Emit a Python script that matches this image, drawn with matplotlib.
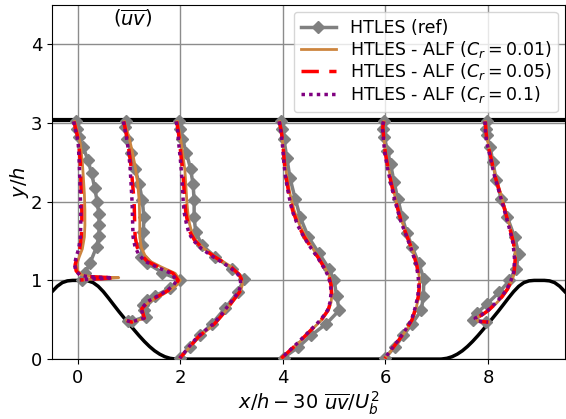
import numpy as np
import matplotlib
matplotlib.use('Agg')
import matplotlib.pyplot as plt

# ── Hill geometry (half profile, x/h and y/h) ─────────────────────────────────
hill_x = [0.0, 0.1, 0.2, 0.3, 0.4, 0.5, 0.6, 0.7, 0.8, 0.9, 1.0,
          1.1, 1.2, 1.3, 1.4, 1.5, 1.6, 1.7, 1.8, 1.9, 1.929]
hill_y = [1.0, 1.0, 0.994, 0.972, 0.925, 0.857, 0.776, 0.691, 0.607, 0.527, 0.448,
          0.371, 0.295, 0.224, 0.160, 0.105, 0.062, 0.030, 0.010, 0.001, 0.0]
top_wall = 3.036
stations = [0, 1, 2, 4, 6, 8]

# ── Reference HTLES profiles (x/h - 30 uv/Ub^2, y/h) ──────────────────────────
ref_y = {
    0: [3.02, 2.93, 2.82, 2.70, 2.53, 2.36, 2.18, 2.00, 1.85, 1.70, 1.56, 1.43, 1.22, 1.09, 1.00],
    1: [3.02, 2.95, 2.80, 2.62, 2.42, 2.22, 2.02, 1.80, 1.62, 1.45, 1.30, 1.22, 1.10, 1.00,
        0.90, 0.80, 0.75, 0.69, 0.62, 0.54, 0.48, 0.48],
    2: [3.02, 2.93, 2.80, 2.62, 2.42, 2.22, 2.02, 1.80, 1.62, 1.45, 1.30, 1.15, 1.02, 0.85,
        0.65, 0.45, 0.30, 0.15, 0.02],
    4: [3.02, 2.93, 2.80, 2.55, 2.30, 2.04, 1.80, 1.55, 1.35, 1.15, 1.00, 0.80, 0.62, 0.45,
        0.30, 0.15, 0.02],
    6: [3.02, 2.93, 2.82, 2.65, 2.48, 2.25, 2.04, 1.80, 1.60, 1.43, 1.22, 1.02, 0.80, 0.62,
        0.45, 0.30, 0.15, 0.02],
    8: [3.02, 2.93, 2.85, 2.70, 2.50, 2.27, 2.04, 1.80, 1.55, 1.34, 1.15, 1.00, 0.85, 0.70,
        0.58, 0.50, 0.47],
}
ref_x = {
    0: [-0.04, -0.02, 0.02, 0.10, 0.20, 0.27, 0.33, 0.38, 0.41, 0.42, 0.41, 0.37, 0.24, 0.14, 0.08],
    1: [0.95, 0.92, 0.97, 1.04, 1.12, 1.20, 1.26, 1.29, 1.28, 1.26, 1.24, 1.35, 1.65, 2.00,
        1.80, 1.50, 1.35, 1.27, 1.30, 1.33, 1.05, 0.98],
    2: [1.97, 1.99, 2.04, 2.12, 2.20, 2.25, 2.27, 2.27, 2.30, 2.42, 2.68, 3.00, 3.25, 3.12,
        2.88, 2.62, 2.38, 2.18, 2.00],
    4: [3.97, 3.98, 4.02, 4.08, 4.14, 4.24, 4.34, 4.50, 4.70, 4.90, 5.00, 5.05, 5.10, 4.85,
        4.55, 4.30, 4.02],
    6: [5.97, 5.96, 5.98, 6.04, 6.10, 6.17, 6.24, 6.33, 6.42, 6.52, 6.65, 6.75, 6.74, 6.70,
        6.52, 6.35, 6.18, 6.00],
    8: [7.98, 7.96, 7.98, 8.04, 8.10, 8.16, 8.26, 8.38, 8.52, 8.60, 8.55, 8.42, 8.22, 7.98,
        7.78, 7.70, 7.97],
}

# ── HTLES - ALF profiles ──────────────────────────────────────────────────────
alf_y = {
    0: [3.02, 2.95, 2.85, 2.74, 2.50, 2.31, 2.10, 1.89, 1.70, 1.55, 1.40, 1.30, 1.20, 1.12,
        1.07, 1.05, 1.04, 1.035, 1.025, 1.015, 1.005],
    1: [3.02, 2.95, 2.82, 2.65, 2.45, 2.23, 2.00, 1.75, 1.55, 1.42, 1.32, 1.24, 1.17, 1.09,
        1.00, 0.94, 0.88, 0.81, 0.73, 0.64, 0.56, 0.52, 0.47, 0.49],
    2: [3.02, 2.90, 2.74, 2.55, 2.40, 2.20, 1.98, 1.85, 1.72, 1.60, 1.51, 1.40, 1.30, 1.17,
        1.08, 1.02, 0.94, 0.855, 0.71, 0.58, 0.45, 0.28, 0.14, 0.01],
    4: [3.02, 2.90, 2.74, 2.50, 2.32, 2.10, 1.89, 1.70, 1.55, 1.40, 1.30, 1.15, 1.05, 0.94,
        0.835, 0.72, 0.62, 0.50, 0.37, 0.20, 0.01],
    6: [3.02, 2.95, 2.80, 2.61, 2.40, 2.19, 1.98, 1.77, 1.58, 1.39, 1.20, 1.05, 0.92, 0.79,
        0.65, 0.50, 0.37, 0.24, 0.12, 0.01],
    8: [3.02, 2.90, 2.78, 2.55, 2.32, 2.10, 1.89, 1.68, 1.47, 1.26, 1.10, 1.00, 0.89, 0.79,
        0.70, 0.62, 0.56, 0.52, 0.48, 0.47],
}
alf001_x = {
    0: [-0.06, -0.03, 0.01, 0.05, 0.09, 0.11, 0.13, 0.14, 0.14, 0.13, 0.09, 0.03, -0.02, 0.00,
        0.08, 0.25, 0.50, 0.80, 0.60, 0.28, 0.06],
    1: [0.91, 0.94, 1.00, 1.06, 1.12, 1.17, 1.20, 1.21, 1.21, 1.24, 1.31, 1.42, 1.63, 1.90,
        2.00, 1.93, 1.81, 1.63, 1.40, 1.26, 1.29, 1.31, 1.06, 0.96],
    2: [1.94, 1.98, 2.02, 2.06, 2.09, 2.11, 2.13, 2.15, 2.18, 2.23, 2.30, 2.47, 2.69, 3.00,
        3.15, 3.20, 3.21, 3.17, 3.00, 2.85, 2.68, 2.36, 2.17, 2.00],
    4: [3.94, 3.97, 4.00, 4.04, 4.08, 4.14, 4.22, 4.33, 4.45, 4.59, 4.69, 4.83, 4.91, 4.95,
        4.96, 4.94, 4.89, 4.76, 4.56, 4.30, 3.98],
    6: [5.97, 5.95, 5.97, 6.01, 6.07, 6.14, 6.22, 6.31, 6.42, 6.53, 6.62, 6.66, 6.67, 6.65,
        6.60, 6.53, 6.41, 6.27, 6.13, 6.00],
    8: [7.95, 7.97, 7.99, 8.07, 8.15, 8.25, 8.34, 8.43, 8.51, 8.54, 8.52, 8.47, 8.39, 8.28,
        8.15, 8.02, 7.89, 7.77, 7.81, 8.01],
}
alf005_x = {
    0: [-0.07, -0.05, -0.01, 0.02, 0.05, 0.06, 0.07, 0.08, 0.08, 0.07, 0.04, -0.01, -0.05, -0.03,
        0.05, 0.20, 0.45, 0.72, 0.55, 0.25, 0.05],
    1: [0.90, 0.92, 0.96, 1.00, 1.04, 1.07, 1.10, 1.11, 1.12, 1.16, 1.24, 1.36, 1.58, 1.86,
        1.96, 1.89, 1.78, 1.60, 1.38, 1.25, 1.28, 1.30, 1.05, 0.96],
    2: [1.93, 1.96, 1.99, 2.02, 2.05, 2.07, 2.09, 2.11, 2.15, 2.20, 2.28, 2.45, 2.67, 2.99,
        3.14, 3.19, 3.20, 3.16, 2.99, 2.84, 2.67, 2.35, 2.16, 1.99],
    4: [3.93, 3.97, 4.00, 4.03, 4.06, 4.12, 4.19, 4.30, 4.42, 4.57, 4.68, 4.82, 4.90, 4.94,
        4.95, 4.93, 4.88, 4.75, 4.55, 4.29, 3.97],
    6: [5.97, 5.95, 5.97, 6.00, 6.06, 6.13, 6.21, 6.30, 6.41, 6.52, 6.61, 6.65, 6.66, 6.64,
        6.59, 6.52, 6.40, 6.26, 6.12, 5.99],
    8: [7.95, 7.96, 7.98, 8.06, 8.14, 8.24, 8.33, 8.42, 8.50, 8.53, 8.51, 8.46, 8.38, 8.27,
        8.14, 8.01, 7.88, 7.76, 7.80, 8.01],
}
alf01_x = {
    0: [-0.08, -0.06, -0.02, 0.01, 0.03, 0.04, 0.05, 0.06, 0.06, 0.05, 0.02, -0.03, -0.06, -0.04,
        0.04, 0.18, 0.40, 0.68, 0.50, 0.22, 0.04],
    1: [0.89, 0.91, 0.95, 0.99, 1.02, 1.04, 1.06, 1.07, 1.08, 1.12, 1.20, 1.32, 1.54, 1.82,
        1.93, 1.87, 1.76, 1.58, 1.36, 1.24, 1.27, 1.29, 1.04, 0.96],
    2: [1.92, 1.95, 1.97, 2.00, 2.02, 2.04, 2.06, 2.08, 2.12, 2.17, 2.25, 2.42, 2.64, 2.96,
        3.12, 3.17, 3.18, 3.14, 2.97, 2.82, 2.65, 2.33, 2.15, 1.99],
    4: [3.93, 3.96, 3.99, 4.02, 4.05, 4.11, 4.18, 4.29, 4.41, 4.56, 4.67, 4.81, 4.89, 4.93,
        4.94, 4.92, 4.87, 4.74, 4.54, 4.28, 3.97],
    6: [5.96, 5.94, 5.96, 5.99, 6.05, 6.12, 6.20, 6.29, 6.40, 6.51, 6.60, 6.64, 6.65, 6.63,
        6.58, 6.51, 6.39, 6.25, 6.11, 5.99],
    8: [7.94, 7.95, 7.97, 8.05, 8.13, 8.23, 8.32, 8.41, 8.49, 8.52, 8.50, 8.45, 8.37, 8.26,
        8.13, 8.00, 7.87, 7.75, 7.79, 8.00],
}

# ── Figure ─────────────────────────────────────────────────────────────────────
fig = plt.figure(figsize=(5.66, 4.19), dpi=100)
ax = fig.add_axes([0.092, 0.143, 0.906, 0.845])

# hill walls (periodic: crest at 0 and 9)
hx = np.array(hill_x)
hy = np.array(hill_y)
m = hx <= 0.5
wall_x = np.concatenate([-hx[m][::-1], hx, 9 - hx[::-1], 9 + hx[m]])
wall_y = np.concatenate([hy[m][::-1], hy, hy[::-1], hy[m]])
ax.plot(wall_x, wall_y, color='black', lw=2.5, zorder=3)
ax.axhline(top_wall, color='black', lw=3, zorder=3)

for i, s in enumerate(stations):
    ax.plot(ref_x[s], ref_y[s], color='gray', lw=2.5, marker='D', markersize=6,
            label='HTLES (ref)' if i == 0 else None, zorder=4)
    ax.plot(alf001_x[s], alf_y[s], color='peru', lw=2,
            label=r'HTLES - ALF ($C_r = 0.01$)' if i == 0 else None, zorder=5)
    ax.plot(alf005_x[s], alf_y[s], color='red', lw=2.5, ls=(0, (5, 3)),
            label=r'HTLES - ALF ($C_r = 0.05$)' if i == 0 else None, zorder=6)
    ax.plot(alf01_x[s], alf_y[s], color='purple', lw=2.5, ls=(0, (1, 1.2)),
            label=r'HTLES - ALF ($C_r = 0.1$)' if i == 0 else None, zorder=7)

ax.text(1.08, 4.33, r'$(\overline{uv})$', fontsize=14, ha='center', va='center')

ax.set_xlim(-0.5, 9.5)
ax.set_ylim(0, 4.5)
ax.set_xticks([0, 2, 4, 6, 8])
ax.set_yticks([0, 1, 2, 3, 4])
ax.grid(True, color='#8c8c8c', lw=1)
ax.set_axisbelow(True)
ax.tick_params(labelsize=13)
ax.set_xlabel(r'$x/h - 30\ \overline{uv}/U_b^2$', fontsize=14, labelpad=2)
ax.set_ylabel(r'$y/h$', fontsize=14, labelpad=0)
ax.legend(loc='upper right', fontsize=12.5, handlelength=2.0, borderaxespad=0.4,
          labelspacing=0.1, framealpha=0.8)

plt.savefig('out.png', dpi=100)
plt.close()
